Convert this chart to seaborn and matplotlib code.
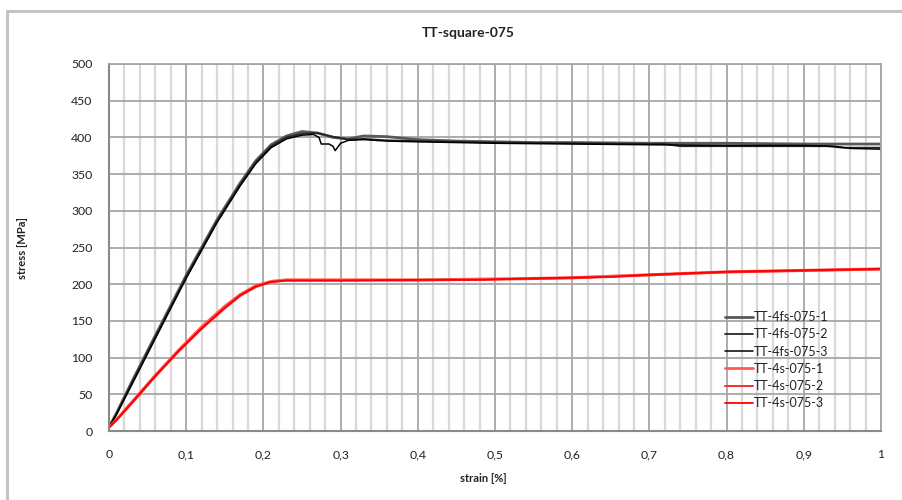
import matplotlib
matplotlib.use("Agg")
import matplotlib.pyplot as plt
from matplotlib.patches import Rectangle
import seaborn as sns

# --- specimen curves: strain [%] vs stress [MPa] ---
b1_strain = [0, 0.01, 0.03, 0.06, 0.10, 0.14, 0.17, 0.19, 0.21, 0.23, 0.25, 0.27,
             0.29, 0.31, 0.33, 0.36, 0.40, 0.45, 0.50, 0.55, 0.60, 0.70, 0.80, 0.90, 1.00]
b1_stress = [5, 25, 68, 130, 212, 288, 338, 368, 390, 402, 408, 406,
             400, 398, 402, 401, 397, 395, 394, 393, 393, 392, 392, 391, 391]

b2_strain = [0, 0.01, 0.03, 0.06, 0.10, 0.14, 0.17, 0.19, 0.21, 0.23, 0.25, 0.27,
             0.29, 0.31, 0.33, 0.36, 0.40, 0.45, 0.50, 0.60, 0.70, 0.72, 0.74,
             0.90, 0.93, 0.95, 1.00]
b2_stress = [5, 24, 66, 128, 210, 286, 336, 366, 388, 400, 405, 406,
             401, 397, 398, 396, 395, 394, 393, 392, 391, 391, 388,
             388, 388, 386, 386]

b3_strain = [0, 0.01, 0.03, 0.06, 0.10, 0.14, 0.17, 0.19, 0.21, 0.23, 0.25, 0.265,
             0.272, 0.275, 0.285, 0.29, 0.293, 0.30, 0.31, 0.33, 0.36, 0.40, 0.45,
             0.50, 0.60, 0.70, 0.80, 0.90, 0.94, 0.96, 1.00]
b3_stress = [5, 23, 64, 126, 208, 284, 334, 364, 386, 398, 403, 404,
             400, 391, 391, 388, 382, 392, 396, 397, 395, 394, 393,
             392, 391, 390, 389, 389, 388, 385, 384]

r_strain = [0, 0.01, 0.03, 0.06, 0.09, 0.12, 0.15, 0.17, 0.19, 0.21, 0.23, 0.30,
            0.40, 0.48, 0.55, 0.60, 0.65, 0.70, 0.80, 0.90, 1.00]
r1_stress = [5, 16, 40, 76, 110, 142, 170, 186, 198, 204, 206, 206,
             206, 207, 208, 209, 211, 213, 217, 219, 221]
r2_stress = [5, 15, 38, 74, 108, 139, 167, 184, 196, 203, 205, 205,
             205, 206, 207, 208, 210, 212, 216, 218, 220]
r3_stress = [5, 15, 39, 75, 109, 140, 168, 185, 197, 203, 205, 205,
             206, 206, 208, 209, 210, 213, 217, 219, 221]

labels = ["TT-4fs-075-1", "TT-4fs-075-2", "TT-4fs-075-3",
          "TT-4s-075-1", "TT-4s-075-2", "TT-4s-075-3"]
x_ticks = [0, 0.1, 0.2, 0.3, 0.4, 0.5, 0.6, 0.7, 0.8, 0.9, 1]
x_tick_labels = ["0", "0,1", "0,2", "0,3", "0,4", "0,5", "0,6", "0,7", "0,8", "0,9", "1"]
y_ticks = [0, 50, 100, 150, 200, 250, 300, 350, 400, 450, 500]

series = [
    (b1_strain, b1_stress, "#5a5a5a", 2.0),
    (b2_strain, b2_stress, "#262626", 1.3),
    (b3_strain, b3_stress, "#000000", 1.1),
    (r_strain, r1_stress, "#ff5a5a", 2.0),
    (r_strain, r2_stress, "#ff2b2b", 1.4),
    (r_strain, r3_stress, "#ff0000", 1.3),
]

sns.set_theme(style="white")
plt.rcParams["font.family"] = ["Lato", "DejaVu Sans"]

fig = plt.figure(figsize=(9.02, 5.0), dpi=100)
ax = fig.add_axes([109 / 902, 1 - 431 / 500, 772 / 902, 367 / 500])

for (xs, ys, col, lw), lab in zip(series, labels):
    sns.lineplot(x=xs, y=ys, ax=ax, color=col, linewidth=lw, label=lab,
                 sort=False, estimator=None)

ax.set_xlim(0, 1)
ax.set_ylim(0, 500)
ax.set_xticks(x_ticks)
ax.set_xticklabels(x_tick_labels)
ax.set_yticks(y_ticks)
ax.set_xticks([i / 50 for i in range(51)], minor=True)

ax.grid(which="minor", axis="x", color="#d9d9d9", linewidth=1.6)
ax.grid(which="major", axis="both", color="#a6a6a6", linewidth=1.3)
ax.set_axisbelow(True)

for side in ["top", "right"]:
    ax.spines[side].set_color("#a6a6a6")
    ax.spines[side].set_linewidth(1.3)
for side in ["left", "bottom"]:
    ax.spines[side].set_color("#8a8a8a")
    ax.spines[side].set_linewidth(1.5)

ax.tick_params(axis="both", which="major", direction="out", length=4, width=1.2,
               color="#8a8a8a", labelsize=8.8, labelcolor="#222222", pad=8)
ax.tick_params(axis="x", which="major", pad=9)
ax.tick_params(axis="both", which="minor", length=0)

fig.text(468 / 902, 1 - 33 / 500, "TT-square-075", ha="center", va="center",
         fontsize=10, fontweight="bold", color="#222222")
fig.text(483 / 902, 1 - 478 / 500, "strain [%]", ha="center", va="center",
         fontsize=8, fontweight="bold", color="#222222")
fig.text(22 / 902, 1 - 248 / 500, "stress [MPa]", ha="center", va="center",
         rotation=90, fontsize=8, fontweight="bold", color="#222222")

ax.legend(loc="upper left", bbox_to_anchor=(725 / 902, 1 - 311 / 500),
          bbox_transform=fig.transFigure, frameon=False, fontsize=9,
          handlelength=2.2, handletextpad=0.15, labelspacing=0.42,
          borderpad=0, borderaxespad=0, labelcolor="#222222")

# chart-area border
fig.patches.append(Rectangle((7 / 902, -0.1), 1.2, 1 - 11 / 500 + 0.1,
                             transform=fig.transFigure, fill=False,
                             edgecolor="#c4c4c4", linewidth=2.2, clip_on=False))

fig.savefig("out.png", dpi=100)
